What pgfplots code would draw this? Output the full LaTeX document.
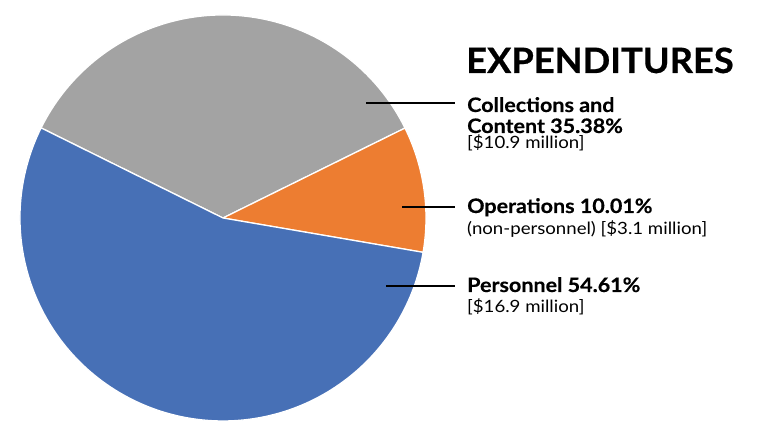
\documentclass[border=0pt]{standalone}
\usepackage{fontspec}
\setmainfont{Lato}
\newfontfamily\titlefont{Lato}[BoldFeatures={FakeStretch=1.04,FakeBold=0.6}]
\newfontfamily\labfont{Lato}[BoldFeatures={FakeStretch=1.08,FakeBold=0.4}]
\newfontfamily\subfont{Lato}[FakeStretch=1.10]
\usepackage{pgfplots}
\pgfplotsset{compat=1.18}
\definecolor{pgray}{HTML}{A3A3A3}
\definecolor{porange}{HTML}{ED7D31}
\definecolor{pblue}{HTML}{4770B6}
\begin{document}
\begin{tikzpicture}[x=1bp,y=1bp]
\path[use as bounding box] (0,0) rectangle (765,437);
\begin{axis}[
  at={(20bp,16bp)}, anchor=south west,
  scale only axis, width=406bp, height=406bp,
  xmin=-1, xmax=1, ymin=-1, ymax=1,
  hide axis, clip=false]
% Collections and Content 35.38% : 153.66 -> 26.30 deg
\addplot[fill=pgray, draw=white, line width=1.3pt, line join=round]
  coordinates {(0,0) (0.8965,0.4431)} arc[start angle=26.30, end angle=153.66, radius=203bp] -- cycle;
% Operations 10.01% : 26.30 -> -9.74 deg
\addplot[fill=porange, draw=white, line width=1.3pt, line join=round]
  coordinates {(0,0) (0.9856,-0.1692)} arc[start angle=-9.74, end angle=26.30, radius=203bp] -- cycle;
% Personnel 54.61% : -9.74 -> -206.34 deg
\addplot[fill=pblue, draw=white, line width=1.3pt, line join=round]
  coordinates {(0,0) (-0.8961,0.4437)} arc[start angle=153.66, end angle=350.26, radius=203bp] -- cycle;
\end{axis}
% leader lines
\draw[line width=2.6bp] (366,334) -- (455,334);
\draw[line width=2.6bp] (402,230) -- (455,230);
\draw[line width=2.6bp] (386,151) -- (455,151);
% title
\node[anchor=base west, inner sep=0pt] at (466,364) {\titlefont\fontsize{35}{42}\selectfont\bfseries EXPENDITURES};
% labels
\node[anchor=base west, inner sep=0pt] at (467,325) {\labfont\fontsize{20}{24}\selectfont\bfseries Collections and};
\node[anchor=base west, inner sep=0pt] at (467,304) {\labfont\fontsize{20}{24}\selectfont\bfseries Content 35.38\%};
\node[anchor=base west, inner sep=0pt] at (467,288) {\subfont\fontsize{17}{20}\selectfont [\$10.9 million]};
\node[anchor=base west, inner sep=0pt] at (467,224) {\labfont\fontsize{20}{24}\selectfont\bfseries Operations 10.01\%};
\node[anchor=base west, inner sep=0pt] at (467,202) {\subfont\fontsize{17}{20}\selectfont (non-personnel) [\$3.1 million]};
\node[anchor=base west, inner sep=0pt] at (467,145) {\labfont\fontsize{20}{24}\selectfont\bfseries Personnel 54.61\%};
\node[anchor=base west, inner sep=0pt] at (467,124) {\subfont\fontsize{17}{20}\selectfont [\$16.9 million]};
\end{tikzpicture}
\end{document}
